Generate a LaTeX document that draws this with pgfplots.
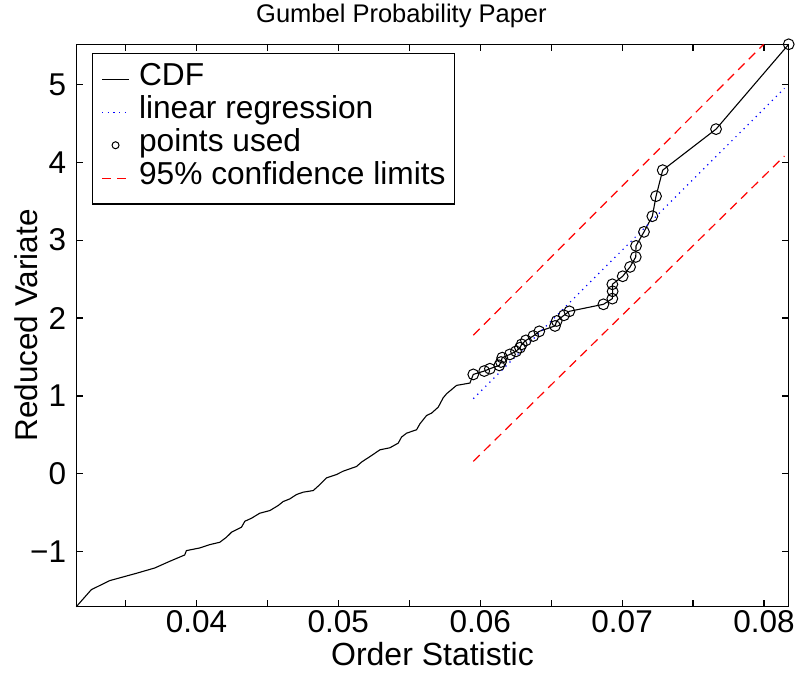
\documentclass[border=0pt]{standalone}
\usepackage{pgfplots}
\pgfplotsset{compat=1.18}
\usepackage{fontspec}
\setmainfont{Liberation Sans}
\begin{document}
\begin{tikzpicture}
\begin{axis}[
  at={(0pt,0pt)}, anchor=south west,
  scale only axis, width=712.4pt, height=562.4pt,
  xmin=0.03153, xmax=0.08174, ymin=-1.706, ymax=5.514,
  clip=false,
  scaled x ticks=false, scaled y ticks=false,
  axis line style={line width=1.4pt},
  tick align=inside,
  major tick length=7pt, minor tick length=7pt,
  every tick/.style={black, line width=1.2pt},
  xtick={0.04,0.05,0.06,0.07,0.08},
  xticklabels={0.04,0.05,0.06,0.07,0.08},
  minor xtick={0.035,0.045,0.055,0.065,0.075},
  ytick={-1,0,1,2,3,4,5},
  yticklabels={−1,0,1,2,3,4,5},
  tick label style={font=\fontsize{31.5}{31.5}\selectfont, inner sep=0pt},
  xticklabel style={anchor=base, yshift=-25.5pt},
  yticklabel style={anchor=east, xshift=-10pt},
  title={Gumbel Probability Paper},
  title style={at={(axis description cs:0.2522,1.0285)}, anchor=base west, inner sep=0pt, font=\fontsize{25.5}{30}\selectfont},
  xlabel={Order Statistic},
  xlabel style={at={(axis description cs:0.5,-0.1037)}, anchor=base, inner sep=0pt, font=\fontsize{32}{32}\selectfont},
  ylabel={Reduced Variate},
  ylabel style={at={(axis description cs:-0.0538,0.5)}, anchor=south, inner sep=0pt, rotate=0, font=\fontsize{31.5}{31.5}\selectfont},
  legend cell align=left,
  legend image code/.code={\draw[mark repeat=2,mark phase=2,#1] plot coordinates {(0pt,0pt) (13.5pt,0pt) (27pt,0pt)};},
  legend style={at={(axis description cs:0.0216,0.98506)}, anchor=north west,
    draw=black, line width=1.5pt, fill=white,
    inner xsep=9pt, inner ysep=9.3pt,
    font=\fontsize{31.7}{33}\selectfont,
    nodes={inner sep=0pt, text height=23pt, text depth=10pt},
    column sep=9.4pt, row sep=0pt},
]
\addplot[black, line width=1.1pt] coordinates {
(0.03153,-1.706) (0.03259,-1.487) (0.03389,-1.371) (0.03577,-1.277)
(0.03706,-1.209) (0.03812,-1.123) (0.03917,-1.042) (0.03929,-0.986)
(0.04023,-0.952) (0.04094,-0.909) (0.04164,-0.879) (0.04211,-0.815)
(0.04247,-0.750) (0.04317,-0.686) (0.04341,-0.609) (0.04388,-0.570)
(0.04446,-0.506) (0.04517,-0.472) (0.04576,-0.407) (0.04611,-0.356)
(0.04658,-0.322) (0.04705,-0.266) (0.04752,-0.236) (0.04823,-0.215)
(0.04870,-0.138) (0.04917,-0.052) (0.04987,-0.009) (0.05034,0.034)
(0.05128,0.094) (0.05163,0.150) (0.05234,0.235) (0.05293,0.308)
(0.05363,0.334) (0.05422,0.394) (0.05445,0.471) (0.05481,0.522)
(0.05551,0.565) (0.05575,0.642) (0.05622,0.749) (0.05657,0.779)
(0.05704,0.856) (0.05739,0.976) (0.05763,1.028) (0.05833,1.135)
(0.05927,1.165)
(0.05951,1.276) (0.06028,1.319) (0.06068,1.349) (0.06134,1.392)
(0.06146,1.435) (0.06155,1.491) (0.06209,1.533) (0.06252,1.572)
(0.06280,1.619) (0.06292,1.662) (0.06322,1.713) (0.06374,1.769)
(0.06416,1.829) (0.06527,1.898) (0.06539,1.962) (0.06590,2.035)
(0.06628,2.086) (0.06868,2.176) (0.06931,2.249) (0.06933,2.343)
(0.06931,2.433) (0.07004,2.536) (0.07056,2.656) (0.07096,2.784)
(0.07098,2.926) (0.07154,3.106) (0.07213,3.307) (0.07239,3.564)
(0.07286,3.898) (0.07662,4.425) (0.08174,5.514)
};
\addlegendentry{CDF}
\addplot[blue, line width=1.2pt, dash pattern=on 1.2pt off 4.5pt] coordinates {
(0.05951,0.964) (0.08144,4.949)
};
\addlegendentry{linear regression}
\addplot[only marks, mark=o, mark size=5.4pt, mark options={black, line width=1pt}, legend image post style={mark size=3.5pt}] coordinates {
(0.05951,1.276) (0.06028,1.319) (0.06068,1.349) (0.06134,1.392)
(0.06146,1.435) (0.06155,1.491) (0.06209,1.533) (0.06252,1.572)
(0.06280,1.619) (0.06292,1.662) (0.06322,1.713) (0.06374,1.769)
(0.06416,1.829) (0.06527,1.898) (0.06539,1.962) (0.06590,2.035)
(0.06628,2.086) (0.06868,2.176) (0.06931,2.249) (0.06933,2.343)
(0.06931,2.433) (0.07004,2.536) (0.07056,2.656) (0.07096,2.784)
(0.07098,2.926) (0.07154,3.106) (0.07213,3.307) (0.07239,3.564)
(0.07286,3.898) (0.07662,4.425) (0.08174,5.514)
};
\addlegendentry{points used}
\addplot[red, line width=1.2pt, dash pattern=on 9pt off 6pt] coordinates {
(0.05951,1.780) (0.07998,5.514)
};
\addlegendentry{95\% confidence limits\hspace{3.5pt}}
\addplot[red, line width=1.2pt, dash pattern=on 9pt off 6pt, forget plot] coordinates {
(0.05951,0.160) (0.08144,4.080)
};
\end{axis}
\pgfresetboundingbox
\path (-76.3pt,-67.3pt) rectangle (724.7pt,606.7pt);
\end{tikzpicture}
\end{document}
